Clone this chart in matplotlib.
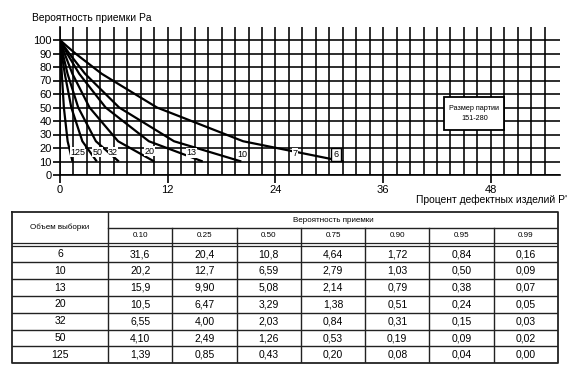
import numpy as np
import matplotlib
matplotlib.use("Agg")
import matplotlib.pyplot as plt
from matplotlib.patches import Rectangle

plt.rcParams['font.family'] = ['Liberation Sans', 'DejaVu Sans']

# ---- data ----
sample_sizes = [6, 10, 13, 20, 32, 50, 125]
pa_levels = [0.10, 0.25, 0.50, 0.75, 0.90, 0.95, 0.99]
pa_labels = ["0.10", "0.25", "0.50", "0.75", "0.90", "0.95", "0.99"]
p_n6 = [31.6, 20.4, 10.8, 4.64, 1.72, 0.84, 0.16]
p_n10 = [20.2, 12.7, 6.59, 2.79, 1.03, 0.50, 0.09]
p_n13 = [15.9, 9.90, 5.08, 2.14, 0.79, 0.38, 0.07]
p_n20 = [10.5, 6.47, 3.29, 1.38, 0.51, 0.24, 0.05]
p_n32 = [6.55, 4.00, 2.03, 0.84, 0.31, 0.15, 0.03]
p_n50 = [4.10, 2.49, 1.26, 0.53, 0.19, 0.09, 0.02]
p_n125 = [1.39, 0.85, 0.43, 0.20, 0.08, 0.04, 0.00]
p_rows = [p_n6, p_n10, p_n13, p_n20, p_n32, p_n50, p_n125]
start_p = 0.0      # every curve starts at p = 0 ...
start_pa = 100.0   # ... with Pa = 100 %
x_ticks = [0, 12, 24, 36, 48]
y_ticks = [0, 10, 20, 30, 40, 50, 60, 70, 80, 90, 100]
curve_labels = ["125", "50", "32", "20", "13", "10", "7", "6"]
curve_label_x = [1.95, 4.2, 5.9, 9.95, 14.6, 20.3, 26.2, 30.75]
curve_label_y = [16.8, 16.8, 16.8, 17.5, 16.3, 15.3, 16.2, 15.3]

W, H = 575, 372
fig = plt.figure(figsize=(W / 100, H / 100), dpi=100)

def px(x0, y0, x1, y1):
    return [x0 / W, 1 - y1 / H, (x1 - x0) / W, (y1 - y0) / H]

# ---- chart ----
ax = fig.add_axes(px(60, 26.5, 560, 175))
ax.set_xlim(0, 55.7)
ax.set_ylim(0, 110)
ax.set_xticks(x_ticks)
ax.set_xticks(np.arange(0, 54.01, 1.5), minor=True)
ax.set_yticks(y_ticks)
ax.grid(True, which='both', axis='x', color='black', lw=1.15)
ax.grid(True, which='major', axis='y', color='black', lw=1.15)
ax.tick_params(axis='x', which='major', length=6, width=1.2, direction='out',
               labelsize=8, pad=1)
ax.tick_params(axis='x', which='minor', length=0)
ax.tick_params(axis='y', length=5, width=1.2, direction='out', labelsize=8, pad=1)
for s in ['top', 'right']:
    ax.spines[s].set_visible(False)
for s in ['left', 'bottom']:
    ax.spines[s].set_linewidth(1.2)
ax.set_axisbelow(True)

for row in p_rows:
    xs = [start_p] + row[::-1]
    ys = [start_pa] + [v * 100 for v in pa_levels[::-1]]
    ax.plot(xs, ys, color='black', lw=1.6, solid_capstyle='butt', zorder=3)

for lab, lx, ly in zip(curve_labels, curve_label_x, curve_label_y):
    if lab == "6":
        bb = dict(boxstyle='square,pad=0.25', fc='white', ec='black', lw=1.0)
    else:
        bb = dict(boxstyle='square,pad=0.05', fc='white', ec='none')
    ax.text(lx, ly, lab, fontsize=6.5, ha='center', va='center', bbox=bb, zorder=4)

# lot size box
ax.add_patch(Rectangle((42.8, 33.3), 6.7, 24.5, fc='white', ec='black', lw=1.3,
                       zorder=5))
ax.text(46.15, 45.6, "Размер партии\n151-280", fontsize=5.2, ha='center',
        va='center', linespacing=1.5, zorder=6)

fig.text(32 / W, 1 - 18 / H, "Вероятность приемки Pa", fontsize=7.4,
         ha='left', va='center')
fig.text(416 / W, 1 - 200 / H, "Процент дефектных изделий P'", fontsize=7.4,
         ha='left', va='center')

# ---- table ----
L, R, T, B = 12, 558, 211.7, 363.3
tax = fig.add_axes(px(L, T, R, B))
tax.set_xlim(L, R)
tax.set_ylim(B, T)
tax.axis('off')
c1 = 108
ncol = len(pa_labels)
cw = (R - c1) / ncol
h1 = 228.3
h2a, h2b = 243.3, 245.6
rh = (B - h2b) / len(sample_sizes)
lc = '#222222'
tax.plot([L, R, R, L, L], [T, T, B, B, T], color=lc, lw=1.3, clip_on=False)
tax.plot([c1, c1], [T, B], color=lc, lw=1.0)
tax.plot([c1, R], [h1, h1], color=lc, lw=1.0)
tax.plot([L, R], [h2a, h2a], color=lc, lw=0.9)
tax.plot([L, R], [h2b, h2b], color=lc, lw=0.9)
for j in range(1, ncol):
    x = c1 + j * cw
    tax.plot([x, x], [h1, B], color=lc, lw=1.0)
for i in range(1, len(sample_sizes)):
    y = h2b + i * rh
    tax.plot([L, R], [y, y], color=lc, lw=1.0)

tax.text((L + c1) / 2, 227, "Объем выборки", fontsize=5.8, ha='center', va='center')
tax.text((c1 + R) / 2, 220, "Вероятность приемки", fontsize=5.8, ha='center', va='center')
for j, lab in enumerate(pa_labels):
    tax.text(c1 + (j + 0.5) * cw, (h1 + h2a) / 2, lab, fontsize=5.8,
             ha='center', va='center')

def fmt(v):
    s = f"{v:.1f}" if v >= 10 else f"{v:.2f}"
    return s.replace('.', ',')

for i, (n, row) in enumerate(zip(sample_sizes, p_rows)):
    yc = h2b + (i + 0.5) * rh
    tax.text((L + c1) / 2, yc, str(n), fontsize=7.5, ha='center', va='center')
    for j, v in enumerate(row):
        tax.text(c1 + (j + 0.5) * cw, yc, fmt(v), fontsize=7.5, ha='center', va='center')

fig.savefig("out.png", dpi=100, facecolor='white')
